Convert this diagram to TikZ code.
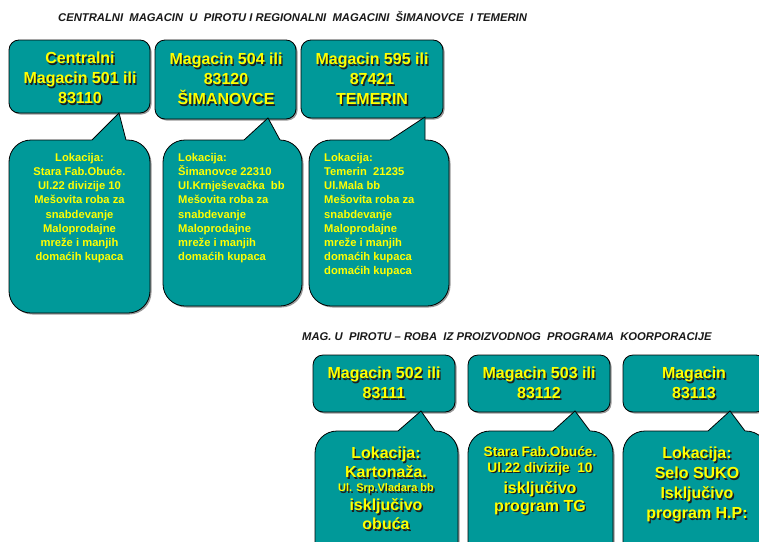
\documentclass[tikz,border=0pt]{standalone}
\usepackage{fontspec}
\setmainfont{Liberation Sans}
\definecolor{tealc}{RGB}{0,153,153}
\definecolor{yel}{RGB}{255,255,0}
\definecolor{txtshadow}{RGB}{30,30,30}
\newcommand\shnode[4]{%
  \node[#1,text=txtshadow] (#2s) at ([shift={(1.4,1.4)}]#3) {#4};
  \node[#1] (#2) at (#3) {#4};}
\newcommand\callout[9]{% #1..#4 rect x1,y1,x2,y2 ; #5,#6 base left/right x ; #7,#8 tip x,y ; #9 radius
  \fill[boxshadow,rounded corners=#9] (#1+1.5,#2+1.5) rectangle (#3+1.5,#4+1.5);
  \draw[boxline,rounded corners=#9] (#1,#2) rectangle (#3,#4);
  \fill[tealc] (#5-0.5,#2+1.2) -- (#5,#2) -- (#7,#8) -- (#6,#2) -- (#6+0.5,#2+1.2) -- cycle;
  \draw[edgeline] (#5,#2) -- (#7,#8) -- (#6,#2);}
\newcommand\plainbox[4]{%
  \fill[boxshadow,rounded corners=10] (#1+1.5,#2+1.5) rectangle (#3+1.5,#4+1.5);
  \draw[boxline,rounded corners=10] (#1,#2) rectangle (#3,#4);}
\tikzset{
  boxline/.style={draw=black,line width=0.8pt,fill=tealc},
  boxshadow/.style={fill=black!40},
  edgeline/.style={draw=black,line width=0.8pt,line join=miter},
  title/.style={font=\fontsize{11.25}{13}\selectfont\bfseries\itshape,anchor=west,inner sep=0pt,text=black!90},
  bigtxt/.style={text=yel,font=\fontsize{16}{20}\selectfont\bfseries,align=center,inner sep=0pt},
  smalltxt/.style={text=yel,font=\fontsize{11.2}{14.2}\selectfont\bfseries,inner sep=0pt},
}
\begin{document}
\begin{tikzpicture}[x=1pt,y=-1pt]
\useasboundingbox (0,0) rectangle (759,541);
\clip (0,0) rectangle (759,541);

% titles
\node[title] (t1) at (58,17) {CENTRALNI\ \ MAGACIN\ \ U\ \ PIROTU I REGIONALNI\ \ MAGACINI\ \ ŠIMANOVCE\ \ I TEMERIN};
\node[title] (t2) at (302,337) {MAG. U\ \ PIROTU -- ROBA\ \ IZ PROIZVODNOG\ \ PROGRAMA\ \ KOORPORACIJE};

% top row boxes
\plainbox{9}{40}{150}{113}
\plainbox{155}{40}{296}{119}
\plainbox{301}{40}{443}{118}

% top row callouts
\callout{9}{140}{150}{313}{92}{126}{119}{113}{22}
\callout{163}{140}{302}{306}{244}{280}{268}{118}{22}
\callout{309}{140}{449}{306}{390}{425}{425}{117}{22}

% top box texts
\shnode{bigtxt}{a1}{80,78}{Centralni\\Magacin 501 ili\\83110}
\shnode{bigtxt}{b1}{226,79}{Magacin 504 ili\\83120\\ŠIMANOVCE}
\shnode{bigtxt}{c1}{372,79}{Magacin 595 ili\\87421\\TEMERIN}

% callout texts (top row)
\node[smalltxt,align=center,anchor=north] (a2) at (79.5,153) {Lokacija:\\Stara Fab.Obuće.\\Ul.22 divizije 10\\Mešovita roba za\\snabdevanje\\Maloprodajne\\mreže i manjih\\domaćih kupaca};
\node[smalltxt,align=left,anchor=north west] (b2) at (178,153) {Lokacija:\\Šimanovce 22310\\Ul.Krnješevačka\ \ bb\\Mešovita roba za\\snabdevanje\\Maloprodajne\\mreže i manjih\\domaćih kupaca};
\node[smalltxt,align=left,anchor=north west] (c2) at (324,153) {Lokacija:\\Temerin\ \ 21235\\Ul.Mala bb\\Mešovita roba za\\snabdevanje\\Maloprodajne\\mreže i manjih\\domaćih kupaca\\domaćih kupaca};

% lower row boxes
\plainbox{313}{355}{455}{412}
\plainbox{468}{355}{610}{412}
\plainbox{623}{355}{766}{412}

% lower row callouts
\callout{315}{431}{458}{580}{398}{435}{421}{411}{22}
\callout{468}{431}{613}{580}{553}{590}{575}{411}{22}
\callout{623}{431}{768}{580}{708}{745}{730}{411}{22}

% lower box texts
\shnode{bigtxt}{d1}{384,383}{Magacin 502 ili\\83111}
\shnode{bigtxt}{e1}{539,383}{Magacin 503 ili\\83112}
\shnode{bigtxt}{f1}{694,383}{Magacin\\83113}

% lower callout texts
\shnode{bigtxt,anchor=north,font=\fontsize{16}{19}\selectfont\bfseries}{d2}{386,447}{Lokacija:\\Kartonaža.\\[-5pt]{\fontsize{11}{13}\selectfont Ul. Srp.Vladara bb}\\isključivo\\obuća}
\shnode{bigtxt,anchor=north,font=\fontsize{16}{18}\selectfont\bfseries}{e2}{540,446}{{\fontsize{13.7}{16}\selectfont Stara Fab.Obuće.}\\[-2pt]{\fontsize{13.7}{16}\selectfont Ul.22 divizije\ \ 10}\\[3pt]isključivo\\program TG}
\shnode{bigtxt,anchor=north}{f2}{697,447}{Lokacija:\\Selo SUKO\\Isključivo\\program H.P:}
\end{tikzpicture}
\end{document}
